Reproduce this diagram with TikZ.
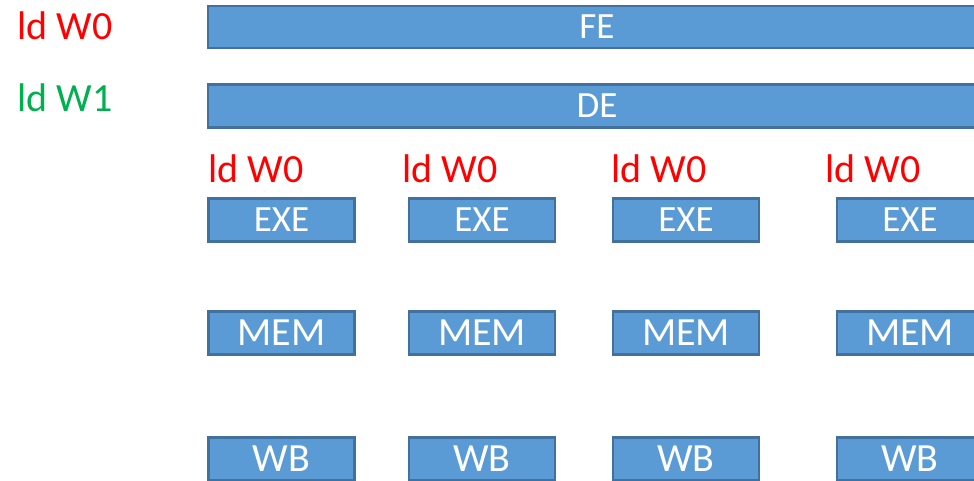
\documentclass[tikz,border=0pt]{standalone}
\usepackage{fontspec}
\setmainfont{Carlito}
\definecolor{boxfill}{HTML}{5B9BD5}
\definecolor{boxline}{HTML}{41719C}
\definecolor{lblred}{HTML}{FF0000}
\definecolor{lblgreen}{HTML}{00B050}
\begin{document}
\begin{tikzpicture}[x=0.75pt,y=-0.75pt,
  stagebox/.style={draw=boxline, fill=boxfill, line width=1.8pt, text=white, inner sep=0pt,
    minimum height=32.5pt, font=\fontsize{27.75}{30}\selectfont},
  bigtext/.style={font=\fontsize{30}{32}\selectfont},
  colbox/.style={stagebox, minimum width=109.5pt},
  lbl/.style={anchor=base west, inner sep=0pt, font=\fontsize{30}{32}\selectfont}]
\useasboundingbox (0,0) rectangle (974,481);
\clip (0,0) rectangle (974,481);
\node[stagebox, minimum width=583.5pt, minimum height=31.5pt] (fe) at (597,27) {FE};
\node[stagebox, minimum width=583.5pt] (de) at (597,106) {DE};
\node[lbl, text=lblred] (l0) at (17,40) {ld W0};
\node[lbl, text=lblgreen] (l1) at (17,112) {ld W1};
\foreach \c/\lx [count=\i] in {281.5/208, 482/402, 686/611, 910/825} {
  \node[lbl, text=lblred] (lab\i) at (\lx,183) {ld W0};
  \node[colbox] (exe\i) at (\c,220) {EXE};
  \node[colbox, bigtext] (mem\i) at (\c,333) {MEM};
  \node[colbox, bigtext] (wb\i) at (\c,459) {WB};
}
\end{tikzpicture}
\end{document}
